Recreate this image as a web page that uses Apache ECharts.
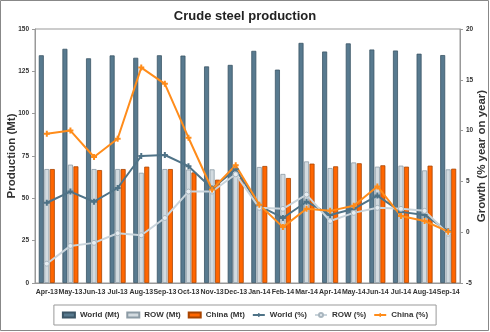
<!DOCTYPE html>
<html><head><meta charset="utf-8">
<script src="https://cdn.jsdelivr.net/npm/echarts@6/dist/echarts.min.js"></script>
<style>html,body{margin:0;padding:0;background:#fff}#c{width:490px;height:332px}</style>
</head><body><div id="c"></div>
<script>
const categories = ['Apr-13','May-13','Jun-13','Jul-13','Aug-13','Sep-13','Oct-13','Nov-13','Dec-13','Jan-14','Feb-14','Mar-14','Apr-14','May-14','Jun-14','Jul-14','Aug-14','Sep-14'];
const worldMt = [134.5,138.3,132.7,134.4,133.0,134.5,134.3,127.9,128.8,137.1,126.0,141.8,136.7,141.5,137.9,137.3,135.4,134.6];
const rowMt   = [67.3,69.9,67.3,67.3,65.1,67.3,67.0,67.1,65.0,68.5,64.4,71.8,67.9,71.2,68.7,69.3,66.5,67.1];
const chinaMt = [67.3,68.9,66.7,67.3,68.7,67.3,65.3,61.0,62.0,69.1,62.0,70.5,68.9,70.7,69.5,68.7,69.3,67.5];
const worldPct = [2.9,4.0,3.0,4.35,7.5,7.6,6.5,4.3,6.2,2.6,1.4,3.0,1.7,2.3,3.6,2.0,1.7,0.1];
const rowPct   = [-3.1,-1.35,-1.05,-0.1,-0.3,1.4,4.0,4.0,5.7,2.4,2.3,3.7,1.1,1.9,2.4,2.3,2.1,-0.15];
const chinaPct = [9.7,10.0,7.4,9.2,16.2,14.6,9.3,4.2,6.6,2.7,0.5,2.3,2.1,2.6,4.5,1.6,1.1,0.05];

const F = '"Liberation Sans", Arial, sans-serif';
const C_WB = '#587a8f', C_RB = '#d3dbe0', C_CB = '#ff6600';
const C_WL = '#4f7387', C_RL = '#c9d4db', C_CL = '#ff8c1a';
const star = 'path://M2,0H4V2H6V4H4V6H2V4H0V2H2Z';

const chart = echarts.init(document.getElementById('c'), null, {renderer:'canvas'});
chart.setOption({
  animation:false,
  backgroundColor:'#fff',
  title:{text:'Crude steel production', left:'center', top:5,
    textStyle:{fontFamily:F, fontSize:13, fontWeight:'bold', color:'#222'}},
  graphic:[{type:'rect', shape:{x:0.5,y:0.5,width:488,height:330}, style:{fill:'none', stroke:'#888', lineWidth:1}, silent:true}],
  grid:{left:35, right:30, top:29, bottom:49, show:true, borderColor:'#999', borderWidth:1, containLabel:false, outerBoundsMode:'none'},
  legend:{
    top:305, left:'center', padding:[6,8], itemGap:7, itemWidth:12, itemHeight:5,
    borderColor:'#999', borderWidth:1,
    textStyle:{fontFamily:F, fontSize:8, fontWeight:'bold', color:'#333'},
    data:[
      {name:'World (Mt)', icon:'rect'},
      {name:'ROW (Mt)', icon:'rect'},
      {name:'China (Mt)', icon:'rect'},
      {name:'World (%)'},
      {name:'ROW (%)'},
      {name:'China (%)'}
    ]
  },
  xAxis:{type:'category', data:categories,
    axisLine:{lineStyle:{color:'#999'}}, axisTick:{show:false},
    axisLabel:{interval:0, fontFamily:F, fontSize:7, fontWeight:'bold', color:'#333', margin:6}},
  yAxis:[
    {type:'value', min:0, max:150, interval:25, position:'left',
     name:'Production (Mt)', nameLocation:'middle', nameGap:17, nameRotate:90, nameMoveOverlap:false,
     nameTextStyle:{fontFamily:F, fontSize:11.5, fontWeight:'bold', color:'#333'},
     axisLine:{show:true, lineStyle:{color:'#999'}}, axisTick:{show:true, length:3, lineStyle:{color:'#999'}},
     splitLine:{show:false},
     axisLabel:{fontFamily:F, fontSize:6.5, fontWeight:'bold', color:'#333', margin:6}},
    {type:'value', min:-5, max:20, interval:5, position:'right',
     name:'Growth (% year on year)', nameLocation:'middle', nameGap:16, nameRotate:90, nameMoveOverlap:false,
     nameTextStyle:{fontFamily:F, fontSize:11.5, fontWeight:'bold', color:'#333'},
     axisLine:{show:true, lineStyle:{color:'#999'}}, axisTick:{show:true, length:3, lineStyle:{color:'#999'}},
     splitLine:{show:false},
     axisLabel:{fontFamily:F, fontSize:6.5, fontWeight:'bold', color:'#333', margin:6}}
  ],
  series:[
    {name:'World (Mt)', type:'bar', data:worldMt, barWidth:5, barGap:'10%',
     itemStyle:{color:C_WB, borderColor:'#3b5566', borderWidth:0.8}},
    {name:'ROW (Mt)', type:'bar', data:rowMt, barWidth:5, barGap:'10%',
     itemStyle:{color:C_RB, borderColor:'#8c9ba5', borderWidth:0.8}},
    {name:'China (Mt)', type:'bar', data:chinaMt, barWidth:5, barGap:'10%',
     itemStyle:{color:C_CB, borderColor:'#a84400', borderWidth:0.8}},
    {name:'World (%)', type:'line', yAxisIndex:1, data:worldPct, symbol:star, symbolSize:6,
     lineStyle:{color:C_WL, width:2}, itemStyle:{color:C_WL}},
    {name:'ROW (%)', type:'line', yAxisIndex:1, data:rowPct, symbol:'circle', symbolSize:5,
     lineStyle:{color:C_RL, width:2}, itemStyle:{color:'#e8eef2', borderColor:'#a9b6bf', borderWidth:1}},
    {name:'China (%)', type:'line', yAxisIndex:1, data:chinaPct, symbol:star, symbolSize:6,
     lineStyle:{color:C_CL, width:2}, itemStyle:{color:C_CL}}
  ]
});
</script></body></html>
